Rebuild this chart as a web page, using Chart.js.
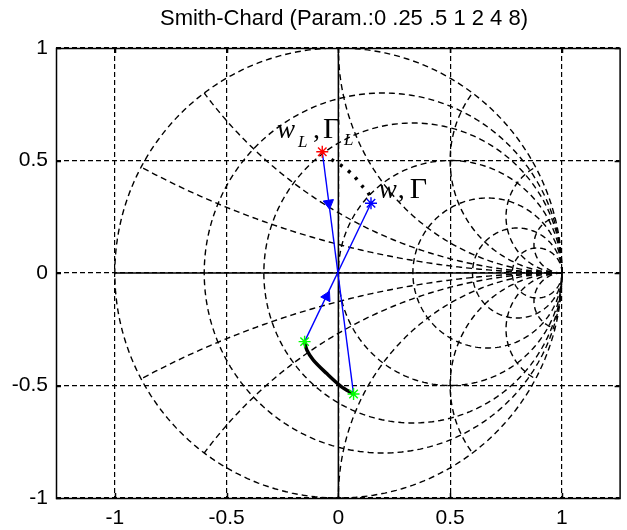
<!DOCTYPE html>
<html><head><meta charset="utf-8">
<script src="https://cdn.jsdelivr.net/npm/chart.js@4.4.0/dist/chart.umd.min.js"></script>
<style>html,body{margin:0;padding:0;background:#fff;}</style>
</head><body>
<canvas id="c" width="627" height="530"></canvas>
<script>
// ---- data ----
const chartTitle = 'Smith-Chard (Param.:0 .25 .5 1 2 4 8)';
const smithParams = [0, 0.25, 0.5, 1, 2, 4, 8];
const tickValues = [-1, -0.5, 0, 0.5, 1];
const tickLabels = ['-1', '-0.5', '0', '0.5', '1'];
const gammaLoad = [{x: -0.072, y: 0.539}];
const gammaLoadMirror = [{x: 0.068, y: -0.538}];
const gammaIn = [{x: 0.146, y: 0.31}];
const gammaInMirror = [{x: -0.151, y: -0.305}];
const transformArc = [
  {x: 0.068, y: -0.538}, {x: 0.013, y: -0.505}, {x: -0.053, y: -0.446},
  {x: -0.112, y: -0.387}, {x: -0.141, y: -0.342}, {x: -0.151, y: -0.305}
];
const dottedPath = [
  {x: -0.031, y: 0.505}, {x: 0.021, y: 0.472}, {x: 0.065, y: 0.436},
  {x: 0.109, y: 0.384}, {x: 0.131, y: 0.361}, {x: 0.146, y: 0.332}
];
const arrowLoad = [{x: -0.043, y: 0.31}];
const arrowIn = [{x: -0.052, y: -0.105}];
const axisH = [{x: -1, y: 0}, {x: 1, y: 0}];
const axisV = [{x: 0, y: -1}, {x: 0, y: 1}];

// ---- smith grid from parameters ----
function rCircle(r) {
  const c = r / (1 + r), R = 1 / (1 + r), pts = [];
  for (let i = 0; i <= 240; i++) { const a = 2 * Math.PI * i / 240; pts.push({x: c + R * Math.cos(a), y: R * Math.sin(a)}); }
  return pts;
}
function xArc(xv) {
  const s = Math.sign(xv), v = Math.abs(xv), c = 1 / v;
  const px = (v * v - 1) / (v * v + 1), py = 2 * v / (v * v + 1);
  let end = Math.atan2(py - c, px - 1);
  if (end > -Math.PI / 2) end -= 2 * Math.PI;
  const start = -Math.PI / 2, pts = [];
  for (let i = 0; i <= 160; i++) {
    const a = start + (end - start) * i / 160;
    pts.push({x: 1 + c * Math.cos(a), y: s * (c + c * Math.sin(a))});
  }
  return pts;
}
const gridDash = [6, 4];
const circleStyle = {showLine: true, borderColor: '#000', borderWidth: 1.4, borderDash: gridDash, pointRadius: 0, order: 10};
const datasets = [];
smithParams.forEach(r => datasets.push(Object.assign({data: rCircle(r)}, circleStyle)));
smithParams.filter(v => v > 0).forEach(v => {
  datasets.push(Object.assign({data: xArc(v)}, circleStyle));
  datasets.push(Object.assign({data: xArc(-v)}, circleStyle));
});
datasets.push({data: axisH, showLine: true, borderColor: '#000', borderWidth: 1.5, pointRadius: 0, order: 9});
datasets.push({data: axisV, showLine: true, borderColor: '#000', borderWidth: 1.5, pointRadius: 0, order: 9});
datasets.push({data: transformArc, showLine: true, borderColor: '#000', borderWidth: 3.5, tension: 0.3, pointRadius: 0, order: 5});
datasets.push({data: dottedPath, showLine: true, borderColor: '#000', borderWidth: 3.5, borderDash: [3, 7], tension: 0.3, pointRadius: 0, order: 5});
datasets.push({data: [gammaLoad[0], gammaLoadMirror[0]], showLine: true, borderColor: '#0000ff', borderWidth: 1.4, pointRadius: 0, order: 4});
datasets.push({data: [gammaInMirror[0], gammaIn[0]], showLine: true, borderColor: '#0000ff', borderWidth: 1.4, pointRadius: 0, order: 4});
datasets.push({data: arrowLoad, pointStyle: 'triangle', rotation: 172, pointRadius: 6, backgroundColor: '#0000ff', borderColor: '#0000ff', borderWidth: 1, order: 3});
datasets.push({data: arrowIn, pointStyle: 'triangle', rotation: 27, pointRadius: 6, backgroundColor: '#0000ff', borderColor: '#0000ff', borderWidth: 1, order: 3});
datasets.push({data: gammaLoad, pointStyle: 'star', pointRadius: 6, borderColor: '#ff0000', borderWidth: 1.4, order: 1});
datasets.push({data: gammaIn, pointStyle: 'star', pointRadius: 6, borderColor: '#0000ff', borderWidth: 1.4, order: 1});
datasets.push({data: gammaInMirror, pointStyle: 'star', pointRadius: 6, borderColor: '#00ff00', borderWidth: 1.4, order: 1});
datasets.push({data: gammaLoadMirror, pointStyle: 'star', pointRadius: 6, borderColor: '#00ff00', borderWidth: 1.4, order: 1});

const labels = [
  {x: -0.274, y: 0.6, parts: [
    {t: 'w', f: 'italic 27px "Liberation Serif"', dx: 0, dy: 0},
    {t: 'L', f: 'italic 17px "Liberation Serif"', dx: 21, dy: 9},
    {t: ',', f: '28px "Liberation Serif"', dx: 36, dy: 0},
    {t: 'Γ', f: '30px "Liberation Serif"', dx: 46, dy: 0},
    {t: 'L', f: 'italic 17px "Liberation Serif"', dx: 67, dy: 7}
  ]},
  {x: 0.181, y: 0.333, parts: [
    {t: 'w', f: 'italic 27px "Liberation Serif"', dx: 0, dy: 0},
    {t: ',', f: '28px "Liberation Serif"', dx: 19, dy: 0},
    {t: 'Γ', f: '30px "Liberation Serif"', dx: 31, dy: 0}
  ]}
];

const frame = {
  id: 'frame',
  afterDatasetsDraw(chart) {
    const {ctx, chartArea: a, scales: {x, y}} = chart;
    ctx.save();
    labels.forEach(lb => {
      const px = x.getPixelForValue(lb.x), py = y.getPixelForValue(lb.y);
      lb.parts.forEach(p => { ctx.font = p.f; ctx.fillStyle = '#000'; ctx.textBaseline = 'alphabetic'; ctx.textAlign = 'left'; ctx.fillText(p.t, px + p.dx, py + p.dy); });
    });
    ctx.strokeStyle = '#000'; ctx.lineWidth = 1.5; ctx.setLineDash([]);
    ctx.strokeRect(a.left + 0.5, a.top + 0.5, a.right - a.left, a.bottom - a.top);
    ctx.beginPath();
    tickValues.forEach(v => {
      const px = Math.round(x.getPixelForValue(v)) + 0.5, py = Math.round(y.getPixelForValue(v)) + 0.5;
      ctx.moveTo(px, a.bottom); ctx.lineTo(px, a.bottom - 5);
      ctx.moveTo(px, a.top); ctx.lineTo(px, a.top + 5);
      ctx.moveTo(a.left, py); ctx.lineTo(a.left + 5, py);
      ctx.moveTo(a.right, py); ctx.lineTo(a.right - 5, py);
    });
    ctx.stroke();
    ctx.font = '22px "Liberation Sans", Arial, sans-serif';
    ctx.textAlign = 'center'; ctx.textBaseline = 'alphabetic'; ctx.fillStyle = '#000';
    ctx.fillText(chartTitle, 344, 25);
    ctx.restore();
  }
};

const tickFont = {family: '"Liberation Sans", Arial, sans-serif', size: 21};
new Chart(document.getElementById('c'), {
  type: 'scatter',
  data: {datasets},
  options: {
    responsive: false, animation: false,
    layout: {padding: {top: 48, right: 0, left: 0, bottom: 0}},
    plugins: {legend: {display: false}, tooltip: {enabled: false}, title: {display: false}},
    elements: {line: {tension: 0}},
    scales: {
      x: {type: 'linear', min: -1.263, max: 1.258,
        afterBuildTicks: s => { s.ticks = tickValues.map(v => ({value: v})); },
        afterFit: s => { s.height = 32; },
        ticks: {callback: v => tickLabels[tickValues.indexOf(v)], font: tickFont, color: '#000', padding: 8, maxRotation: 0, autoSkip: false},
        grid: {color: '#000', lineWidth: 1.2, drawTicks: false},
        border: {display: false, dash: [5, 3]}
      },
      y: {type: 'linear', min: -1, max: 1,
        afterBuildTicks: s => { s.ticks = tickValues.map(v => ({value: v})); },
        afterFit: s => { s.width = 56; },
        ticks: {callback: v => tickLabels[tickValues.indexOf(v)], font: tickFont, color: '#000', padding: 8, autoSkip: false},
        grid: {color: '#000', lineWidth: 1.2, drawTicks: false},
        border: {display: false, dash: [5, 3]}
      }
    }
  },
  plugins: [frame]
});
</script>
</body></html>
